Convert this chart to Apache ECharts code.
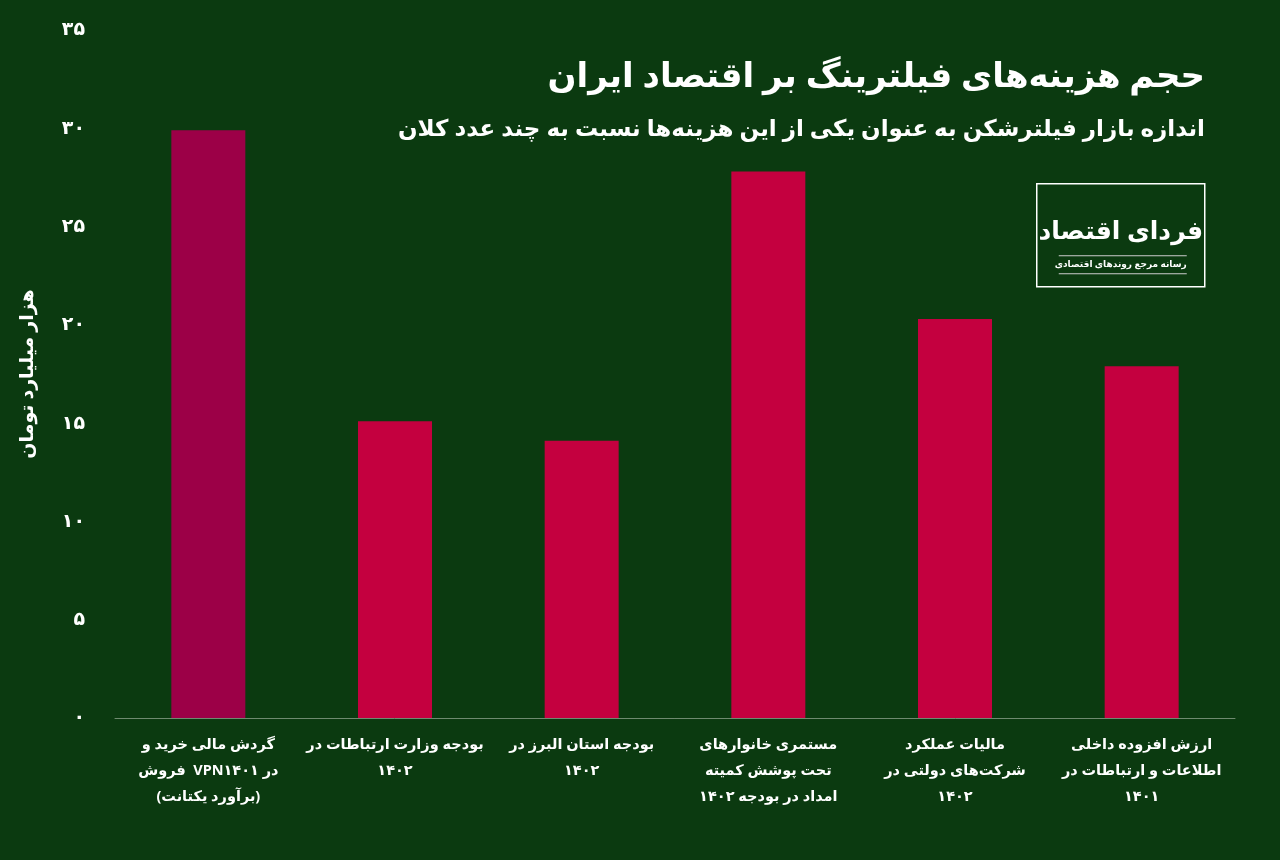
<!DOCTYPE html>
<html><head><meta charset="utf-8">
<script src="https://cdn.jsdelivr.net/npm/echarts@6/dist/echarts.min.js"></script>
<style>html,body{margin:0;background:#0b3a10}#c{width:1280px;height:860px}</style>
</head><body><div id="c"></div>
<script>
const categories = [
  "گردش مالی خرید و\nفروش  VPNدر ۱۴۰۱\n(برآورد یکتانت)",
  "بودجه وزارت ارتباطات در\n۱۴۰۲",
  "بودجه استان البرز در\n۱۴۰۲",
  "مستمری خانوارهای\nتحت پوشش کمیته\nامداد در بودجه ۱۴۰۲",
  "مالیات عملکرد\nشرکت‌های دولتی در\n۱۴۰۲",
  "ارزش افزوده داخلی\nاطلاعات و ارتباطات در\n۱۴۰۱"
];
const values = [29.9, 15.1, 14.1, 27.8, 20.3, 17.9];
const barColors = ["#9c0047", "#c4003f", "#c4003f", "#c4003f", "#c4003f", "#c4003f"];
const fa = n => String(n).replace(/\d/g, d => "۰۱۲۳۴۵۶۷۸۹"[d]);
const font = "'Noto Sans', 'DejaVu Sans', sans-serif";
const chart = echarts.init(document.getElementById('c'));
chart.setOption({
  backgroundColor: "#0b3a10",
  textStyle: {fontFamily: font},
  grid: {left: 115, right: 45, top: 30, bottom: 142},
  xAxis: {
    type: 'category', data: categories,
    axisLine: {lineStyle: {color: '#6f8a6f'}}, axisTick: {show: false},
    axisLabel: {color: '#fff', fontSize: 14.5, fontWeight: 'bold', lineHeight: 26, margin: 14, interval: 0, align: 'center'}
  },
  yAxis: {
    type: 'value', min: 0, max: 35, interval: 5,
    splitLine: {show: false},
    axisLabel: {color: '#fff', fontSize: 19, fontWeight: 'bold', margin: 30, formatter: v => fa(v)},
    name: 'هزار میلیارد تومان', nameLocation: 'middle', nameGap: 78, nameRotate: 90,
    nameTextStyle: {color: '#fff', fontSize: 19, fontWeight: 'bold'}
  },
  series: [{
    type: 'bar', barWidth: 74,
    data: values.map((v, i) => ({value: v, itemStyle: {color: barColors[i]}}))
  }],
  graphic: [
    {type: 'text', right: 75, top: 60, style: {text: 'حجم هزینه‌های فیلترینگ بر اقتصاد ایران', fill: '#fff', font: "bold 34px " + font, textAlign: 'right'}},
    {type: 'text', right: 75, top: 118, style: {text: 'اندازه بازار فیلترشکن به عنوان یکی از این هزینه‌ها نسبت به چند عدد کلان', fill: '#fff', font: "bold 23px " + font, textAlign: 'right'}},
    {type: 'group', left: 1036, top: 183, children: [
      {type: 'rect', shape: {x: 0, y: 0, width: 168, height: 103}, style: {fill: '#0b3a10', stroke: '#ffffff', lineWidth: 1.5}},
      {type: 'text', style: {x: 84, y: 48, text: 'فردای اقتصاد', fill: '#fff', font: "bold 25px " + font, textAlign: 'center', textVerticalAlign: 'middle'}},
      {type: 'line', shape: {x1: 22, y1: 72, x2: 150, y2: 72}, style: {stroke: '#ccc', lineWidth: 1}},
      {type: 'text', style: {x: 84, y: 76, text: 'رسانه مرجع روندهای اقتصادی', fill: '#fff', font: "bold 9px " + font, textAlign: 'center'}},
      {type: 'line', shape: {x1: 22, y1: 90, x2: 150, y2: 90}, style: {stroke: '#ccc', lineWidth: 1}}
    ]}
  ]
});
</script></body></html>
